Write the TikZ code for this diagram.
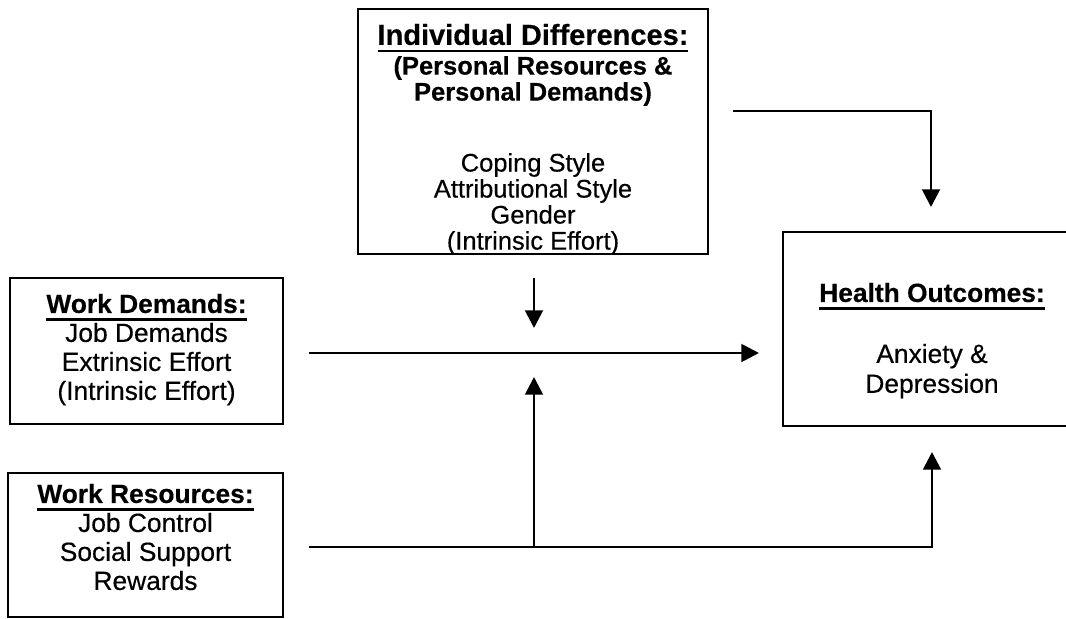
\documentclass[tikz,border=0pt]{standalone}
\usepackage{fontspec}
\setmainfont{Liberation Sans}[FakeBold=0.4]
\usetikzlibrary{arrows.meta}

\newcommand{\ulhead}[1]{\leavevmode\setbox0=\hbox{\bfseries #1}\rlap{\rule[-4.3pt]{\wd0}{1.4pt}}\box0}

\tikzset{
  box/.style={draw, line width=1.6pt, shape=rectangle, anchor=center, inner sep=0pt},
  flow/.style={-{Triangle[length=10pt,width=10pt]}, line width=1.6pt},
  boxtext/.style={align=center, inner sep=0pt, anchor=north, font=\fontsize{15}{16.5}\selectfont}
}

\begin{document}
\begin{tikzpicture}[x=0.02cm, y=-0.02cm]
\useasboundingbox (0,0) rectangle (1066,619);
\clip (0,0) rectangle (1066,619);

\coordinate (r1) at (533,131.5);
\coordinate (r2) at (146.5,351);
\coordinate (r3) at (145.5,545);
\coordinate (r4) at (932,329);

\node[box, minimum width=7cm, minimum height=4.9cm] (id) at (r1) {};
\node[box, minimum width=5.46cm, minimum height=2.92cm] (wd) at (r2) {};
\node[box, minimum width=5.5cm, minimum height=2.88cm] (wr) at (r3) {};
\node[box, minimum width=5.96cm, minimum height=3.88cm] (ho) at (r4) {};

\node[boxtext, font=\fontsize{14.5}{14.8}\selectfont] (idtext) at (533,23.5)
  {{\fontsize{16.5}{16}\selectfont\ulhead{Individual Differences:}}\\[1.1pt]
   {\bfseries (Personal Resources \&}\\
   {\bfseries Personal Demands)}\\[25.6pt]
   Coping Style\\
   Attributional Style\\
   Gender\\
   (Intrinsic Effort)};
\node[boxtext] (wdtext) at (146.5,293.5)
  {\ulhead{Work Demands:}\\ Job Demands\\ Extrinsic Effort\\ (Intrinsic Effort)};
\node[boxtext] (wrtext) at (145.5,483.5)
  {\ulhead{Work Resources:}\\ Job Control\\ Social Support\\ Rewards};
\node[boxtext, font=\fontsize{15}{17}\selectfont] (hotext) at (932,282.5)
  {\ulhead{Health Outcomes:}\\[17.7pt] Anxiety \&\\ Depression};

% arrow ends
\coordinate (t1) at (733,111);
\coordinate (t2) at (931,207);
\coordinate (m1) at (534,278);
\coordinate (m2) at (534,328);
\coordinate (h1) at (309,353);
\coordinate (h2) at (759,353);
\coordinate (b1) at (309,547);
\coordinate (b2) at (534,547);
\coordinate (b3) at (534,377);
\coordinate (b4) at (932,452);

\draw[flow] (t1) -| (t2);
\draw[flow] (m1) -- (m2);
\draw[flow] (h1) -- (h2);
\draw[flow] (b2) -- (b3);
\draw[flow] (b1) -| (b4);
\end{tikzpicture}
\end{document}
